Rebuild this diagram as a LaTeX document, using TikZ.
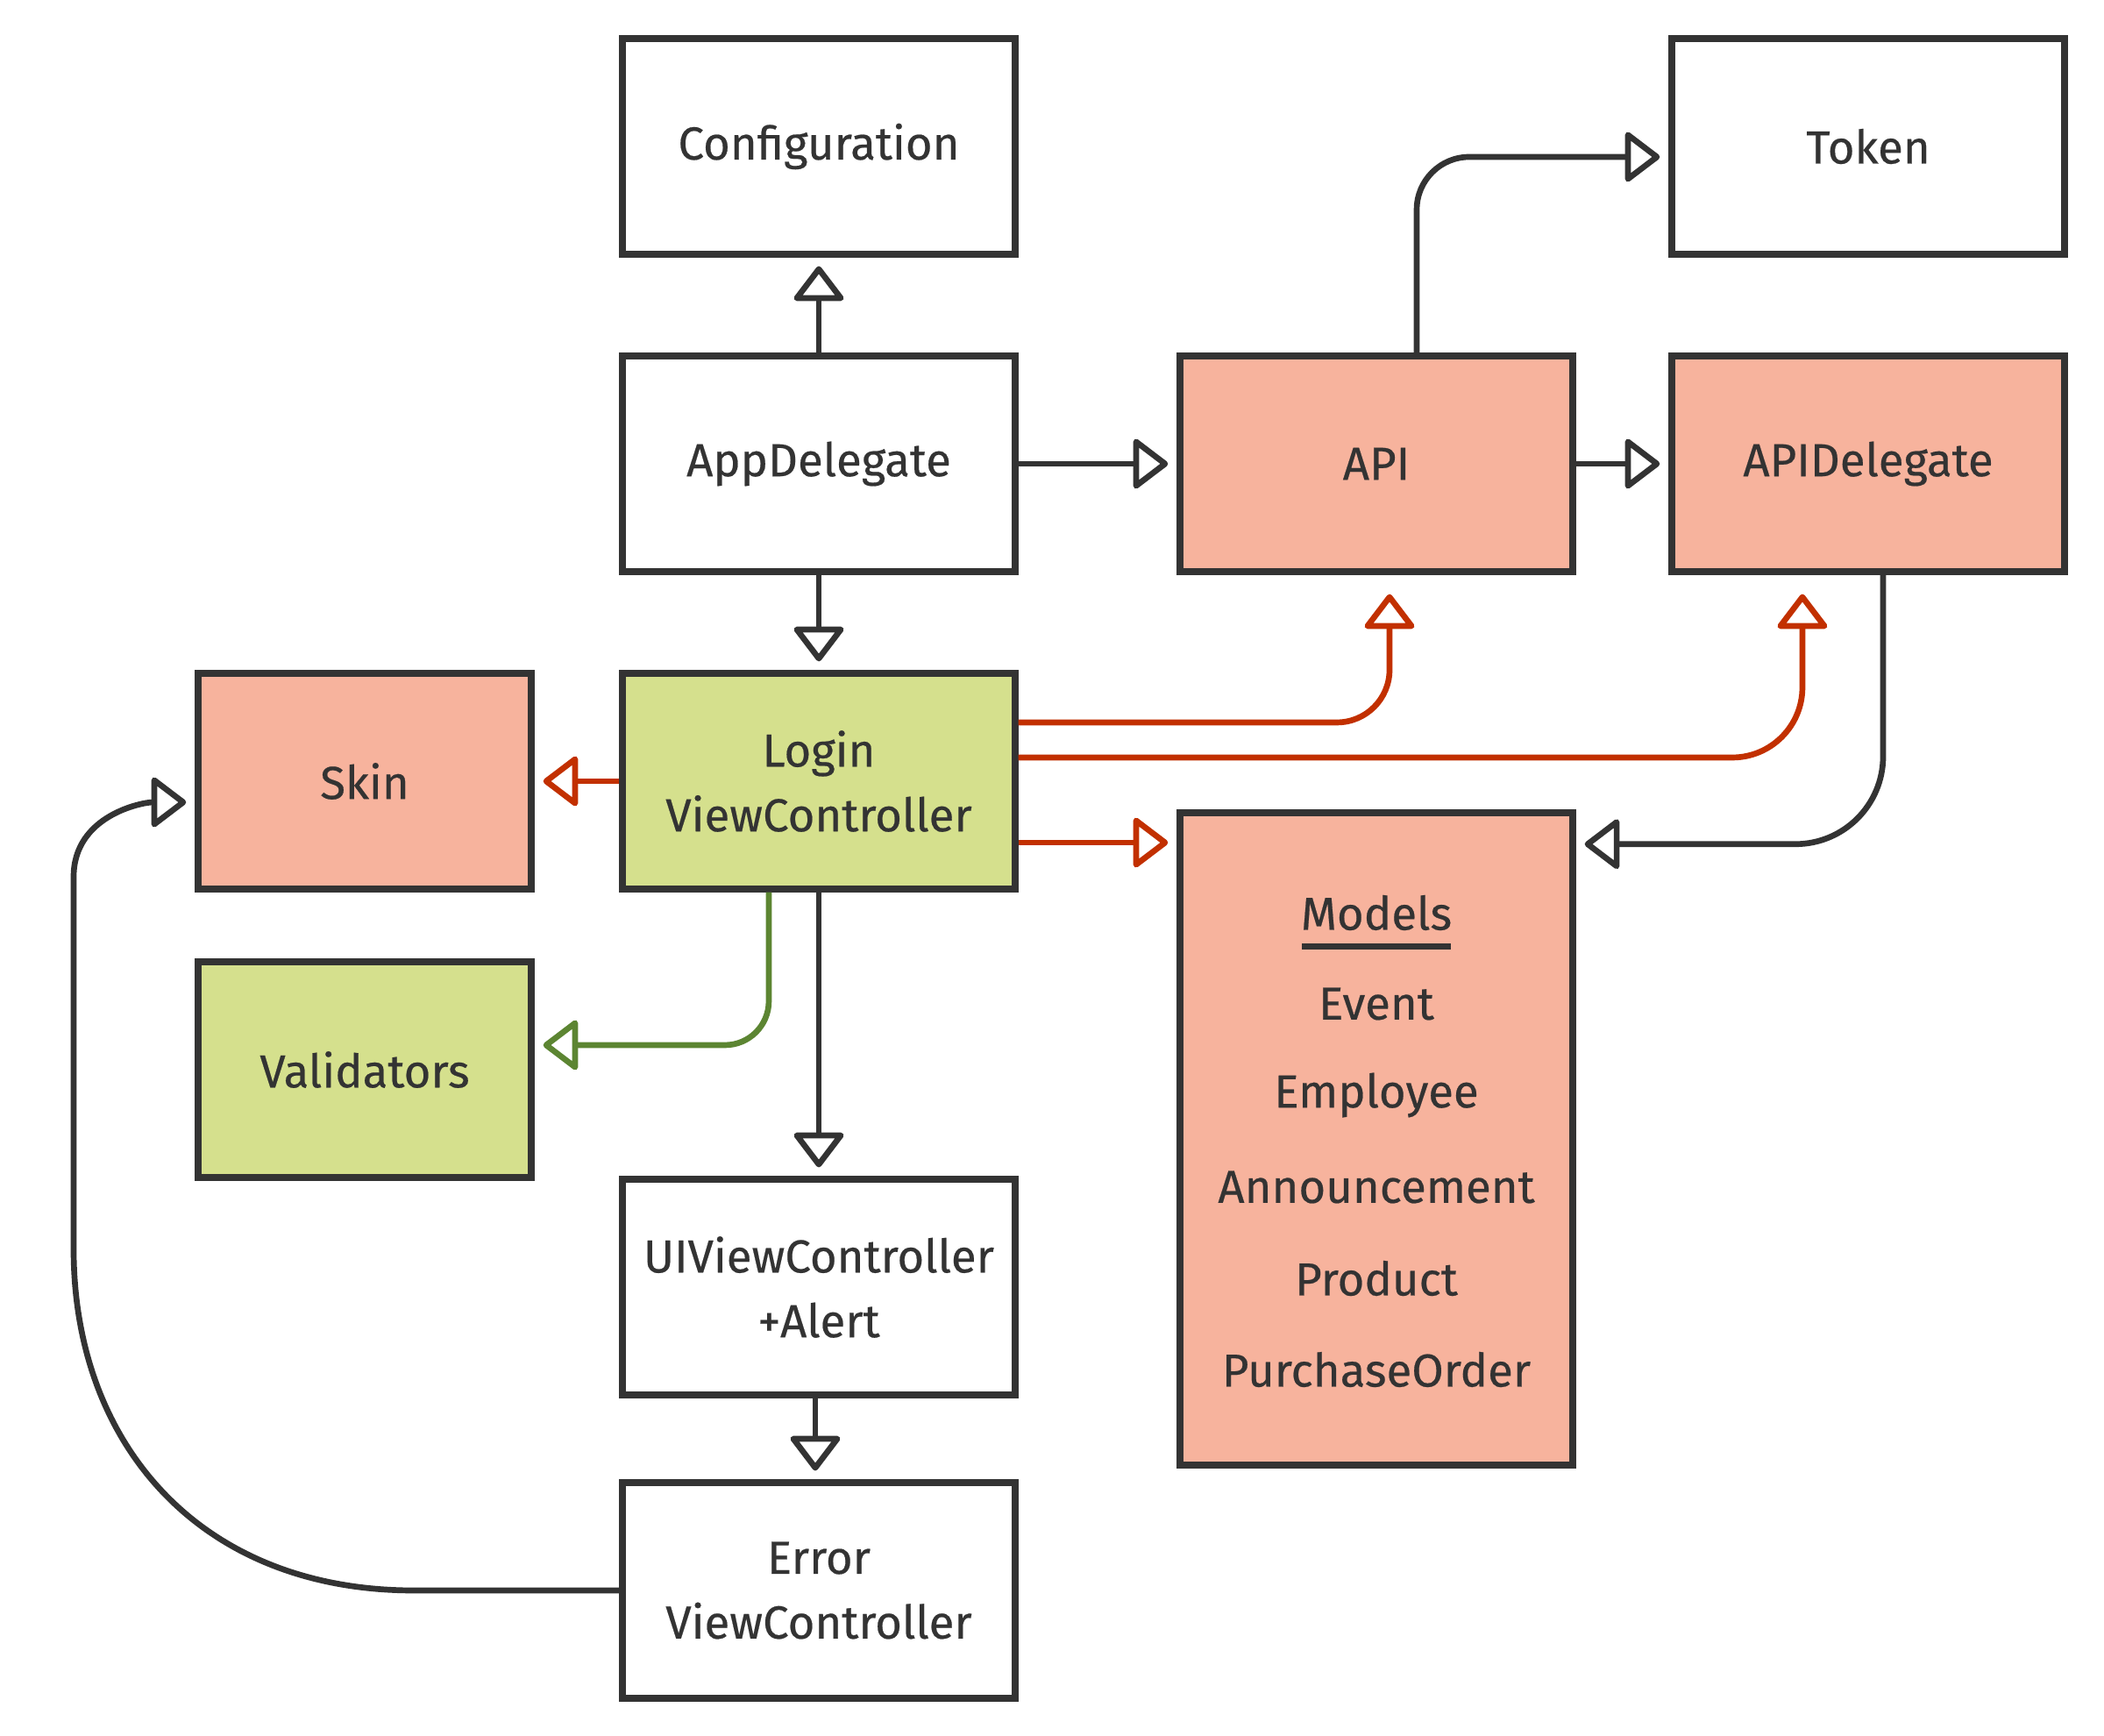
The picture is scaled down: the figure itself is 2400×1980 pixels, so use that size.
\documentclass[tikz,border=0pt]{standalone}
\usepackage{fontspec}
\setmainfont{Fira Sans}[FakeBold=0.4]
\usetikzlibrary{arrows.meta}

\definecolor{ink}{HTML}{333333}
\definecolor{salmon}{HTML}{F7B39D}
\definecolor{lime}{HTML}{D5E08D}
\definecolor{rust}{HTML}{C23000}
\definecolor{moss}{HTML}{5C8532}

\begin{document}
\begin{tikzpicture}[
    x=0.01cm, y=-0.01cm,
    every node/.style={font=\fontsize{15}{21}\selectfont, align=center, text=ink},
    box/.style={rectangle, draw=ink, line width=2.3pt, fill=white,
                minimum width=4.47cm, minimum height=2.45cm, inner sep=2pt},
    extbox/.style={box, fill=salmon},
    ownbox/.style={box, fill=lime},
    arrow/.style={-{Triangle[open, length=0.42cm, width=0.62cm, round]},
                  line width=1.9pt, draw=ink, shorten >=0.1cm},
    uses/.style={arrow, draw=rust},
    checks/.style={arrow, draw=moss}
]
\useasboundingbox (0,0) rectangle (2400,1980);

\node[box] (conf) at (934,167) {Configuration};
\node[box] (token) at (2131,167) {Token};
\node[box] (app) at (934,529) {AppDelegate};
\node[extbox] (api) at (1570,529) {API};
\node[extbox] (apidel) at (2131,529) {APIDelegate};
\node[extbox, minimum width=3.79cm] (skin) at (416,891) {Skin};
\node[ownbox] (login) at (934,891) {Login\\ViewController};
\node[ownbox, minimum width=3.79cm] (valid) at (416,1220) {Validators};
\node[box] (alert) at (934,1468) {UIViewController\\+Alert};
\node[box] (error) at (934,1814) {Error\\ViewController};
\node[extbox, minimum height=7.44cm] (models) at (1570,1299) {};

% model list
\node (mtitle) at (1570,1041) {Models};
\node (m1) at (1570,1145) {Event};
\node (m2) at (1570,1249) {Employee};
\node (m3) at (1570,1354) {Announcement};
\node (m4) at (1570,1458) {Product};
\node (m5) at (1570,1562) {PurchaseOrder};
\draw[ink, line width=2.2pt] ([xshift=0.14cm, yshift=-0.06cm]mtitle.south west) -- ([xshift=-0.14cm, yshift=-0.06cm]mtitle.south east);

\draw[arrow] (app) -- (conf);
\draw[arrow] (app) -- (api);
\draw[arrow] (app) -- (login);
\draw[arrow, rounded corners=0.6cm] ([xshift=0.46cm]api.north) |- ([yshift=-0.12cm]token.west);
\draw[arrow] (api) -- (apidel);
\draw[arrow, rounded corners=1cm] ([xshift=0.17cm]apidel.south) |- ([yshift=-0.4cm]models.north east);

\draw[uses, rounded corners=0.6cm, shorten >=0.22cm] ([yshift=0.67cm]login.east) -| ([xshift=0.15cm]api.south);
\draw[uses, rounded corners=0.8cm, shorten >=0.22cm] ([yshift=0.27cm]login.east) -| ([xshift=-0.75cm]apidel.south);
\draw[uses] ([yshift=-0.7cm]login.east) -- ([yshift=-0.7cm]login.east -| models.west);
\draw[uses] (login) -- (skin);
\draw[checks, rounded corners=0.5cm] ([xshift=-0.57cm]login.south) |- ([yshift=0.28cm]valid.east);

\draw[arrow] (login) -- (alert);
\draw[arrow] ([xshift=-0.04cm]alert.south) -- ([xshift=-0.04cm]error.north);
\draw[arrow] (error.west) -- ++(-234,0) .. controls +(-247,0) and +(0,219) .. (84,1425)
    -- (84,1000) .. controls +(0,-70) and +(-60,0) .. ([yshift=-0.24cm]skin.west);

\end{tikzpicture}
\end{document}
